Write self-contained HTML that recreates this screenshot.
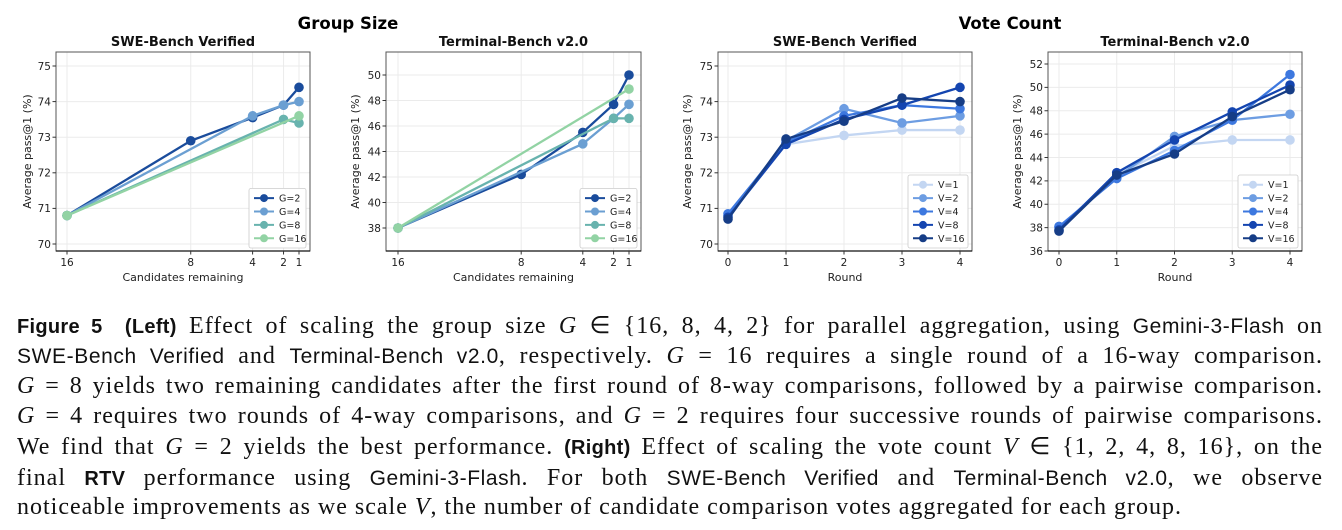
<!DOCTYPE html>
<html><head><meta charset="utf-8">
<style>
body{margin:0;background:#fff;width:1342px;height:530px;overflow:hidden;position:relative}
svg{position:absolute;left:0;top:0}
.cap{position:absolute;left:17px;width:1306px;font-family:"Liberation Serif",serif;font-size:24px;color:#111;white-space:nowrap;text-align:justify;text-align-last:justify;height:30px;line-height:30px;letter-spacing:1px}
.cap.last{text-align-last:left}
.tt{font-family:"Liberation Sans",sans-serif;font-size:21px;letter-spacing:0.6px}
.b{font-family:"Liberation Sans",sans-serif;font-weight:bold;font-size:20px;letter-spacing:0.3px}
i{font-style:italic}
</style></head><body>
<svg id="fig" width="1342" height="300"></svg>
<div>
<div class="cap" style="top:311px"><span class="b">Figure 5 &nbsp;(Left)</span> Effect of scaling the group size <i>G</i> ∈ {16, 8, 4, 2} for parallel aggregation, using <span class="tt">Gemini-3-Flash</span> on</div>
<div class="cap" style="top:341px"><span class="tt">SWE-Bench Verified</span> and <span class="tt">Terminal-Bench v2.0</span>, respectively. <i>G</i> = 16 requires a single round of a 16-way comparison.</div>
<div class="cap" style="top:371px"><i>G</i> = 8 yields two remaining candidates after the first round of 8-way comparisons, followed by a pairwise comparison.</div>
<div class="cap" style="top:401px"><i>G</i> = 4 requires two rounds of 4-way comparisons, and <i>G</i> = 2 requires four successive rounds of pairwise comparisons.</div>
<div class="cap" style="top:432px">We find that <i>G</i> = 2 yields the best performance. <span class="b">(Right)</span> Effect of scaling the vote count <i>V</i> ∈ {1, 2, 4, 8, 16}, on the</div>
<div class="cap" style="top:463px">final <span class="b">RTV</span> performance using <span class="tt">Gemini-3-Flash</span>. For both <span class="tt">SWE-Bench Verified</span> and <span class="tt">Terminal-Bench v2.0</span>, we observe</div>
<div class="cap last" style="top:492px">noticeable improvements as we scale <i>V</i>, the number of candidate comparison votes aggregated for each group.</div>
</div>
<script>
// ---- data ----
const groupLabels = ["G=2","G=4","G=8","G=16"];
const groupColors = ["#1a4c9c","#6b9fd2","#68b3ae","#92d3a4"];
const sweGroupX = [[16,8,4,2,1],[16,4,2,1],[16,2,1],[16,1]];
const sweGroupY = [[70.8,72.9,73.55,73.9,74.4],[70.8,73.6,73.9,74.0],[70.8,73.5,73.4],[70.8,73.6]];
const tbGroupX = [[16,8,4,2,1],[16,4,2,1],[16,2,1],[16,1]];
const tbGroupY = [[38,42.2,45.5,47.7,50.0],[38,44.6,46.6,47.7],[38,46.6,46.6],[38,48.9]];
const candTicks = [16,8,4,2,1];
const voteLabels = ["V=1","V=2","V=4","V=8","V=16"];
const voteColors = ["#c3d6f2","#6d9de2","#3d78df","#1445b0","#163d86"];
const rounds = [0,1,2,3,4];
const sweVoteY = [[70.8,72.8,73.05,73.2,73.2],[70.8,72.9,73.8,73.4,73.6],[70.85,72.85,73.6,73.9,73.8],[70.75,72.8,73.5,73.9,74.4],[70.7,72.95,73.45,74.1,74.0]];
const tbVoteY = [[38.0,42.5,45.0,45.5,45.5],[38.0,42.3,45.8,47.2,47.7],[38.1,42.2,44.6,47.2,51.1],[37.8,42.7,45.5,47.9,50.2],[37.7,42.5,44.3,47.5,49.8]];
const sweTicks = [70,71,72,73,74,75];
const tbGroupTicks = [38,40,42,44,46,48,50];
const tbVoteTicks = [36,38,40,42,44,46,48,50,52];

const NS="http://www.w3.org/2000/svg";
const svg=document.getElementById('fig');
function mk(tag,attrs,parent,text){const e=document.createElementNS(NS,tag);for(const k in attrs)e.setAttribute(k,attrs[k]);if(text!==undefined)e.textContent=text;(parent||svg).appendChild(e);return e;}
const F='"DejaVu Sans","Liberation Sans",sans-serif';

function panel(o){
  const g=mk('g',{});
  
  
  const X=v=>o.x0px+(v-o.x0v)*(o.x1px-o.x0px)/(o.x1v-o.x0v);
  const Y=v=>o.y0px+(v-o.y0v)*(o.y1px-o.y0px)/(o.y1v-o.y0v);
  o.xticks.forEach(t=>{const l=mk('line',{x1:X(t),x2:X(t),y1:o.top,y2:o.bot,stroke:'#ebebeb','stroke-width':1},g);});
  o.yticks.forEach(t=>{const l=mk('line',{x1:o.left,x2:o.right,y1:Y(t),y2:Y(t),stroke:'#ebebeb','stroke-width':1},g);});
  o.ys.forEach((ys,i)=>{
    const xs=o.xs[i];
    const pts=ys.map((v,j)=>X(xs[j])+','+Y(v)).join(' ');
    const pl=mk('polyline',{points:pts,fill:'none',stroke:o.colors[i],'stroke-width':2.3},g);
    
    
    ys.forEach((v,j)=>{const c=mk('circle',{cx:X(xs[j]),cy:Y(v),r:4.8,fill:o.colors[i]},g);
      
      });
  });
  mk('rect',{x:o.left,y:o.top,width:o.right-o.left,height:o.bot-o.top,fill:'none',stroke:'#555','stroke-width':1},g);
  mk('line',{x1:o.left,x2:o.right,y1:o.bot,y2:o.bot,stroke:'#111','stroke-width':1.3},g);
  o.xticks.forEach(t=>{mk('line',{x1:X(t),x2:X(t),y1:o.bot,y2:o.bot+3.5,stroke:'#333'},g);
    const tx=mk('text',{x:X(t),y:o.bot+15,'text-anchor':'middle','font-size':10.5,'font-family':F,fill:'#222'},g,t);
    });
  o.yticks.forEach(t=>{mk('line',{x1:o.left-3.5,x2:o.left,y1:Y(t),y2:Y(t),stroke:'#333'},g);
    const tx=mk('text',{x:o.left-5,y:Y(t)+3.8,'text-anchor':'end','font-size':10.5,'font-family':F,fill:'#222'},g,t);
    });
  const xl=mk('text',{x:(o.left+o.right)/2,y:o.bot+30,'text-anchor':'middle','font-size':11,'font-family':F,fill:'#222'},g,o.xlabel);
  
  const yl=mk('text',{x:0,y:0,transform:`translate(${o.ylx},${(o.top+o.bot)/2}) rotate(-90)`,'text-anchor':'middle','font-size':11,'font-family':F,fill:'#222'},g,'Average pass@1 (%)');
  
  const ti=mk('text',{x:(o.left+o.right)/2,y:46,'text-anchor':'middle','font-size':13,'font-weight':'bold','font-family':F,fill:'#111'},g,o.title);
  
  const n=o.labels.length, lh=13.4, lw=o.legW;
  const lx=o.right-lw-4, ly=o.bot-4-n*lh-5;
  const lg=mk('g',{},g);
  mk('rect',{x:lx,y:ly,width:lw,height:n*lh+6,fill:'#fff',stroke:'#ccc','stroke-width':0.8,rx:2},lg);
  o.labels.forEach((lab,i)=>{const cy=ly+3+lh*(i+0.5);
    const e=mk('g',{},lg);
    mk('line',{x1:lx+5,x2:lx+25,y1:cy,y2:cy,stroke:o.colors[i],'stroke-width':2},e);
    mk('circle',{cx:lx+15,cy:cy,r:4,fill:o.colors[i]},e);
    mk('text',{x:lx+30,y:cy+3.5,'font-size':9.5,'font-family':F,fill:'#222'},e,lab);});
}
panel({name:'group-size-swe-chart',title:'SWE-Bench Verified',xlabel:'Candidates remaining',left:56,right:310,top:52,bot:251,
  x0v:16,x0px:67,x1v:1,x1px:299,y0v:70,y0px:244,y1v:75,y1px:66,xticks:candTicks,yticks:sweTicks,
  xs:sweGroupX,ys:sweGroupY,labels:groupLabels,colors:groupColors,ylx:31,legW:57});
panel({name:'group-size-tb-chart',title:'Terminal-Bench v2.0',xlabel:'Candidates remaining',left:386,right:641,top:52,bot:251,
  x0v:16,x0px:398,x1v:1,x1px:629,y0v:38,y0px:228,y1v:50,y1px:75,xticks:candTicks,yticks:tbGroupTicks,
  xs:tbGroupX,ys:tbGroupY,labels:groupLabels,colors:groupColors,ylx:359,legW:57});
panel({name:'vote-count-swe-chart',title:'SWE-Bench Verified',xlabel:'Round',left:718,right:972,top:52,bot:251,
  x0v:0,x0px:728,x1v:4,x1px:960,y0v:70,y0px:244,y1v:75,y1px:66,xticks:rounds,yticks:sweTicks,
  xs:voteLabels.map(()=>rounds),ys:sweVoteY,labels:voteLabels,colors:voteColors,ylx:691,legW:60});
panel({name:'vote-count-tb-chart',title:'Terminal-Bench v2.0',xlabel:'Round',left:1048,right:1302,top:52,bot:251,
  x0v:0,x0px:1059,x1v:4,x1px:1290,y0v:36,y0px:251,y1v:52,y1px:64,xticks:rounds,yticks:tbVoteTicks,
  xs:voteLabels.map(()=>rounds),ys:tbVoteY,labels:voteLabels,colors:voteColors,ylx:1021,legW:60});
const t1=mk('text',{x:348,y:29,'text-anchor':'middle','font-size':16.5,'font-weight':'bold','font-family':F,fill:'#000'},svg,'Group Size');


const t2=mk('text',{x:1010,y:29,'text-anchor':'middle','font-size':16.5,'font-weight':'bold','font-family':F,fill:'#000'},svg,'Vote Count');


</script>
</body></html>
